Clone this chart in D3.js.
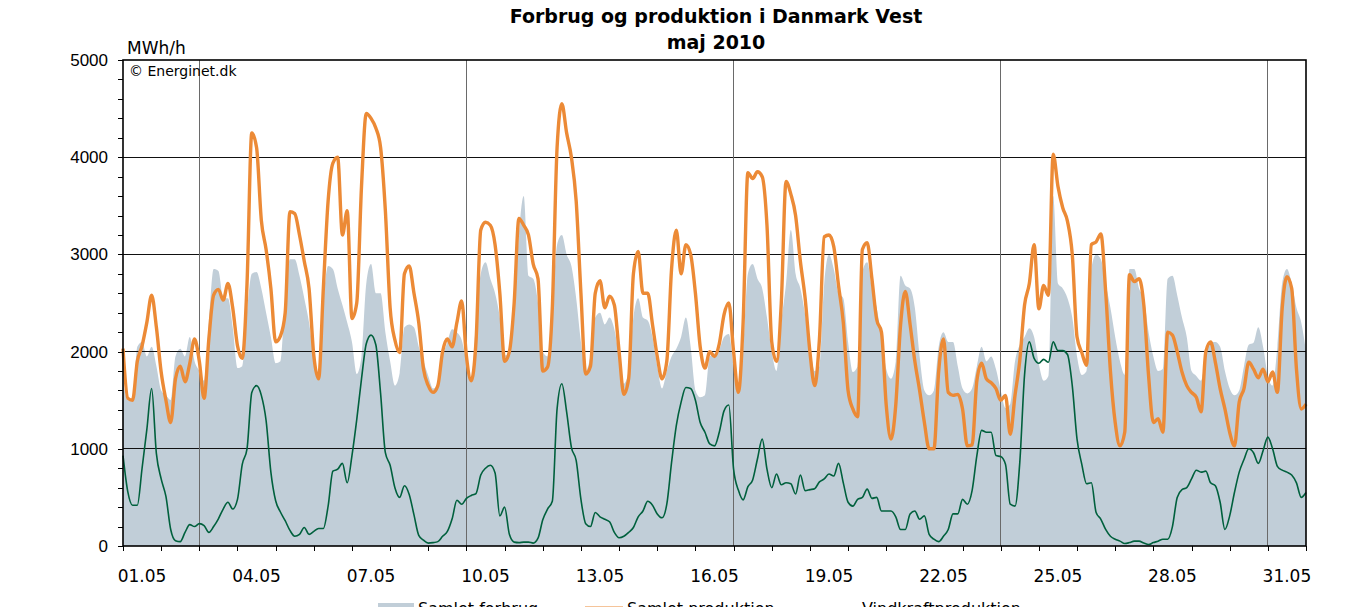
<!DOCTYPE html>
<html>
<head>
<meta charset="utf-8">
<script src="https://cdn.jsdelivr.net/npm/d3@7/dist/d3.min.js"></script>
<style>
  body { margin: 0; background: #fff; }
  svg { display: block; font-family: Verdana, 'DejaVu Sans', sans-serif; }
</style>
</head>
<body>
<div class="draw"></div>
<script>
// maj 2010, one value every 3 hours (8 per day), last value = 1 June 00:00
var stepHours = 3;

var samletForbrug = [
  1700,1500,1500,2050,2100,1950,2050,1850, // 01
  1600,1550,1500,1950,2030,1950,2150,1900,
  1800,1700,2300,2850,2830,2550,2550,2250,
  1830,1850,2400,2800,2820,2650,2400,2150,
  1880,1900,2550,2950,2950,2780,2550,2300, // 05
  1950,1780,2500,2880,2850,2650,2480,2300,
  2100,1770,1950,2700,2900,2600,2600,2200,
  1900,1650,1780,2250,2280,2250,2050,1900,
  1750,1620,1650,1940,2100,2230,2200,2120,
  1900,1700,2300,2800,2920,2750,2600,2350, // 10
  1960,1980,2450,3200,3600,2780,2750,2500,
  2000,1950,2450,3100,3200,3000,2880,2550,
  2100,1800,1960,2350,2400,2280,2350,2230,
  1950,1670,1800,2350,2550,2350,2320,2150,
  1850,1620,1800,1950,2030,2150,2350,2050, // 15
  1600,1530,1550,1950,1980,2020,2150,2180,
  1850,1620,2000,2800,2900,2750,2650,2350,
  2000,1800,2300,2700,3250,2800,2650,2380,
  2050,1800,1850,2700,3000,2850,2600,2550,
  2100,1790,1850,2820,2920,2650,2450,2150, // 20
  1820,1720,1900,2780,2680,2650,2450,1950,
  1600,1550,1600,2050,2200,2100,2100,1850,
  1620,1570,1620,1850,2050,1900,1950,1820,
  1600,1420,1460,1900,2070,2150,2240,2150,
  1870,1700,1750,3600,2700,2650,2550,2350, // 25
  1950,1760,1800,2850,3000,2950,2700,2450,
  2150,1900,1760,2850,2850,2650,2550,2200,
  1950,1800,1820,2750,2780,2580,2350,2150,
  1800,1750,1700,1950,2100,2100,2050,1800,
  1620,1550,1600,1850,2070,2090,2250,2050, // 30
  1750,1650,2050,2700,2850,2700,2450,2300,
  2000
];

var samletProduktion = [
  2030,1520,1500,1900,2060,2300,2580,2250, // 01
  1790,1500,1270,1720,1850,1690,1880,2130,
  1900,1520,2130,2580,2640,2530,2700,2450,
  2060,1930,2700,4250,4100,3350,3050,2650,
  2100,2160,2400,3440,3420,3200,2930,2650, // 05
  1960,1720,2650,3550,3940,4000,3200,3450,
  2340,2500,3700,4450,4400,4300,4100,3450,
  2450,2120,1990,2800,2880,2600,2300,1820,
  1650,1580,1650,2000,2130,2050,2300,2520,
  1950,1700,2100,3250,3330,3300,3100,2600, // 10
  1900,2000,2500,3370,3300,3200,2900,2750,
  1800,1840,2450,4100,4550,4250,4000,3550,
  2600,1770,1850,2600,2730,2450,2570,2480,
  2000,1560,1720,2800,3030,2600,2600,2280,
  1950,1720,1900,2850,3250,2800,3100,3000, // 15
  2600,2050,1830,2000,1950,2080,2380,2500,
  2000,1580,2300,3840,3780,3850,3800,3300,
  2100,1900,2500,3750,3620,3400,2930,2550,
  2000,1650,2130,3180,3200,3080,2680,2300,
  1600,1410,1330,3050,3120,2750,2330,2200, // 20
  1450,1100,1450,2270,2620,2280,1900,1600,
  1270,1000,1000,1800,2130,1580,1550,1560,
  1410,1030,1040,1700,1880,1720,1680,1620,
  1500,1550,1150,1550,1910,2480,2700,3100,
  2440,2680,2580,4030,3700,3480,3340,3000, // 25
  2150,1990,1860,3100,3130,3210,2620,1800,
  1270,1030,1170,2790,2720,2750,2480,1750,
  1270,1310,1170,2200,2170,2000,1790,1650,
  1580,1530,1380,2000,2100,1890,1620,1410,
  1170,1030,1480,1620,1890,1820,1730,1820, // 30
  1690,1790,1580,2440,2770,2650,1820,1410,
  1460
];

var vindkraft = [
  930,560,420,420,800,1200,1620,950, // 01
  690,510,170,55,45,140,220,200,
  230,210,140,200,280,380,450,380,
  480,840,1000,1580,1650,1550,1290,760,
  465,350,260,160,100,120,190,120, // 05
  150,180,180,410,770,790,850,650,
  930,1300,1720,2080,2170,2070,1570,960,
  830,600,500,620,530,320,110,60,
  30,35,45,100,150,280,470,430,
  490,520,540,730,800,830,750,310, // 10
  400,120,40,35,40,40,30,80,
  270,380,460,1410,1670,1380,1015,880,
  480,230,200,345,300,275,250,140,
  85,100,140,190,300,360,460,420,
  330,290,430,860,1240,1480,1630,1620, // 15
  1500,1270,1170,1050,1030,1170,1390,1450,
  790,575,475,610,680,895,1100,790,
  600,740,630,650,640,535,730,570,
  580,590,660,690,740,720,850,650,
  450,410,480,500,585,490,500,360, // 20
  360,360,300,170,170,330,360,275,
  310,120,70,45,100,170,330,330,
  480,430,570,930,1190,1170,1170,930,
  920,840,430,410,860,1760,2100,1930,
  1880,1920,1890,2100,2010,2010,1970,1650, // 25
  1100,840,640,650,345,275,170,100,
  70,50,25,35,50,50,30,15,
  35,50,70,70,200,500,580,600,
  690,780,760,770,650,620,450,170,
  310,550,760,890,1000,960,850,980, // 30
  1120,1000,820,780,760,730,650,500,
  550
];

var titleLines = ['Forbrug og produktion i Danmark Vest', 'maj 2010'];
var xLabels = ['01.05','04.05','07.05','10.05','13.05','16.05','19.05','22.05','25.05','28.05','31.05'];
var mondays = [3, 10, 17, 24, 31];
var yTicks = [0, 1000, 2000, 3000, 4000, 5000];
var legendItems = ['Samlet forbrug', 'Samlet produktion', 'Vindkraftproduktion'];

var chart = {
  el: {},
  size: {},
  util: { axes: { x: {}, y: {} } },

  init: function() {
    this.size.w = 1348;
    this.size.h = 607;
    this.size.left = 123;
    this.size.right = 1306;
    this.size.top = 60;
    this.size.bottom = 546;
    this.size.hours = 31 * 24;

    this.el.container = d3.select('.draw');
    this.util.axes.x.scale = d3.scaleLinear()
      .domain([0, this.size.hours])
      .range([this.size.left, this.size.right]);
    this.util.axes.y.scale = d3.scaleLinear()
      .domain([0, 5000])
      .range([this.size.bottom, this.size.top]);
  },

  draw: function() {
    var x = this.util.axes.x.scale;
    var y = this.util.axes.y.scale;
    var s = this.size;

    var root = this.el.root = this.el.container.append('svg')
      .attr('width', s.w)
      .attr('height', s.h)
      .attr('viewBox', [0, 0, s.w, s.h].join(' '));

    var hourOf = function(d, i) { return i * stepHours; };

    // consumption as filled area
    root.append('path')
      .datum(samletForbrug)
      .attr('fill', '#c1ced8')
      .attr('d', d3.area()
        .x(function(d, i) { return x(hourOf(d, i)); })
        .y0(y(0))
        .y1(function(d) { return y(d); })
        .curve(d3.curveMonotoneX));

    // grid on top of the area
    root.append('g').selectAll('line')
      .data(yTicks.filter(function(d) { return d > 0 && d < 5000; }))
      .enter().append('line')
      .attr('x1', s.left).attr('x2', s.right)
      .attr('y1', function(d) { return y(d); })
      .attr('y2', function(d) { return y(d); })
      .attr('stroke', '#111')
      .attr('stroke-width', 1)
      .attr('shape-rendering', 'crispEdges');

    // week lines on Mondays
    root.append('g').selectAll('line')
      .data(mondays.map(function(m) { return (m - 1) * 24; }))
      .enter().append('line')
      .attr('x1', function(d) { return x(d); })
      .attr('x2', function(d) { return x(d); })
      .attr('y1', s.top).attr('y2', s.bottom)
      .attr('stroke', '#6a6a6a')
      .attr('stroke-width', 1)
      .attr('shape-rendering', 'crispEdges');

    var line = d3.line()
      .x(function(d, i) { return x(hourOf(d, i)); })
      .y(function(d) { return y(d); })
      .curve(d3.curveMonotoneX);

    root.append('path')
      .datum(vindkraft)
      .attr('fill', 'none')
      .attr('stroke', '#00603d')
      .attr('stroke-width', 1.6)
      .attr('stroke-linejoin', 'round')
      .attr('d', line);

    root.append('path')
      .datum(samletProduktion)
      .attr('fill', 'none')
      .attr('stroke', '#ec8a36')
      .attr('stroke-width', 3.4)
      .attr('stroke-linejoin', 'round')
      .attr('d', line);

    // frame
    root.append('rect')
      .attr('x', s.left).attr('y', s.top)
      .attr('width', s.right - s.left).attr('height', s.bottom - s.top)
      .attr('fill', 'none')
      .attr('stroke', '#000')
      .attr('stroke-width', 1.6);

    // y axis: minor ticks every 200, labels every 1000
    var yAxis = d3.axisLeft(y)
      .tickValues(d3.range(0, 5001, 200))
      .tickSize(5)
      .tickPadding(10)
      .tickFormat(function(d) { return yTicks.indexOf(d) >= 0 ? d : ''; });
    var gy = root.append('g')
      .attr('transform', 'translate(' + s.left + ',0)')
      .call(yAxis);
    gy.select('.domain').remove();
    gy.selectAll('text').attr('font-size', 17).attr('font-family', null).attr('fill', '#000');
    gy.selectAll('line').attr('stroke', '#000').attr('shape-rendering', 'crispEdges');

    // x axis: tick per day, labels every third day at the day centre
    var xAxis = d3.axisBottom(x)
      .tickValues(d3.range(0, s.hours + 1, 24))
      .tickSize(5)
      .tickFormat('');
    var gx = root.append('g')
      .attr('transform', 'translate(0,' + s.bottom + ')')
      .call(xAxis);
    gx.select('.domain').remove();
    gx.selectAll('line').attr('stroke', '#000').attr('shape-rendering', 'crispEdges');

    root.append('g').selectAll('text')
      .data(xLabels)
      .enter().append('text')
      .attr('x', function(d) { return x((parseInt(d, 10) - 1) * 24 + 12); })
      .attr('y', 582)
      .attr('text-anchor', 'middle')
      .attr('font-size', 17)
      .text(function(d) { return d; });

    // titles and notes
    root.append('g').selectAll('text')
      .data(titleLines)
      .enter().append('text')
      .attr('x', 716)
      .attr('y', function(d, i) { return 23 + i * 26; })
      .attr('text-anchor', 'middle')
      .attr('font-size', 19)
      .attr('font-weight', 'bold')
      .text(function(d) { return d; });

    root.append('text')
      .attr('x', 127).attr('y', 54)
      .attr('font-size', 17)
      .text('MWh/h');

    root.append('text')
      .attr('x', 129).attr('y', 76)
      .attr('font-size', 14)
      .text('\u00a9 Energinet.dk');

    // legend, cut by the bottom edge like the original
    var legendX = [378, 585, 820];
    var lg = root.append('g').selectAll('g')
      .data(legendItems)
      .enter().append('g')
      .attr('transform', function(d, i) { return 'translate(' + legendX[i] + ',0)'; });
    lg.each(function(d, i) {
      var g = d3.select(this);
      if (i === 0) {
        g.append('rect').attr('x', 0).attr('y', 603).attr('width', 36).attr('height', 10).attr('fill', '#c1ced8');
      } else {
        g.append('line').attr('x1', 0).attr('x2', 38).attr('y1', 608).attr('y2', 608)
          .attr('stroke', i === 1 ? '#ec8a36' : '#00603d')
          .attr('stroke-width', i === 1 ? 3 : 1.6);
      }
      g.append('text')
        .attr('x', i === 0 ? 40 : 42)
        .attr('y', 614)
        .attr('font-size', 16)
        .text(d);
    });
  }
};

chart.init();
chart.draw();
</script>
</body>
</html>
